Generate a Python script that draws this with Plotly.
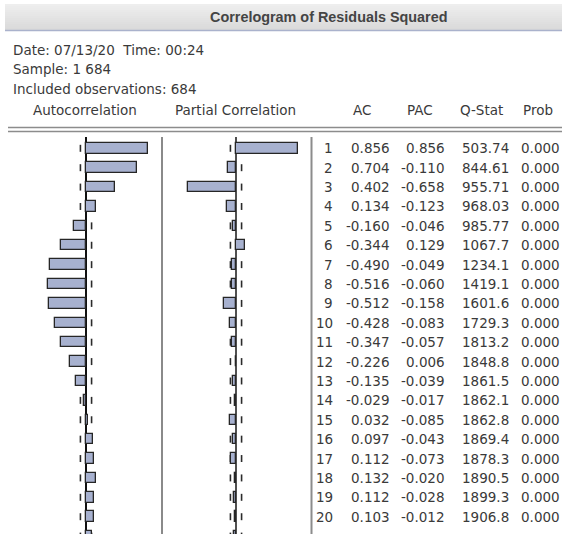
import numpy as np
import plotly.graph_objects as go

# Correlogram of squared residuals: 684 observations, lags 1-21
n_obs = 684
lags = list(range(1, 22))
ac = [0.856, 0.704, 0.402, 0.134, -0.160, -0.344, -0.490, -0.516, -0.512, -0.428,
      -0.347, -0.226, -0.135, -0.029, 0.032, 0.097, 0.112, 0.132, 0.112, 0.103, 0.082]
pac = [0.856, -0.110, -0.658, -0.123, -0.046, 0.129, -0.049, -0.060, -0.158, -0.083,
       -0.057, 0.006, -0.039, -0.017, -0.085, -0.043, -0.073, -0.020, -0.028, -0.012, -0.021]
q_stat = [503.74, 844.61, 955.71, 968.03, 985.77, 1067.7, 1234.1, 1419.1, 1601.6, 1729.3,
          1813.2, 1848.8, 1861.5, 1862.1, 1862.8, 1869.4, 1878.3, 1890.5, 1899.3, 1906.8, 1911.6]
prob = [0.000, 0.000, 0.000, 0.000, 0.000, 0.000, 0.000, 0.000, 0.000, 0.000,
        0.000, 0.000, 0.000, 0.000, 0.000, 0.000, 0.000, 0.000, 0.000, 0.000, 0.000]
col_headers = ["AC", "PAC", "Q-Stat", "Prob"]
info_lines = ["Date: 07/13/20  Time: 00:24", "Sample: 1 684", "Included observations: 684"]
title_text = "Correlogram of Residuals Squared"

W, H = 562, 534
BODY_FONT = "DejaVu Sans"
TXT = "#3a3a3a"
BAR_FILL = "#a7b1cf"
BAR_EDGE = "#262626"


def px(x):
    return x / W


def py(y):
    return 1 - y / H


# vertical layout of the rows (pixels)
top_px, row1_px, row_step = 137.0, 148.3, 19.39
y_range = [20 + (H - (row1_px + 19 * row_step)) / row_step, 1 - (row1_px - top_px) / row_step]

# horizontal scale of the bar panels (pixels per unit of correlation)
scale = 73.0
ac_zero, pac_zero = 86.0, 236.0
ac_left, ac_right = 8.0, 162.0
pac_left, pac_right = 162.0, 311.0

bound = 2 / np.sqrt(n_obs)

fig = go.Figure()

fig.add_trace(go.Bar(x=ac, y=lags, orientation="h", width=0.54, xaxis="x", yaxis="y",
                     marker=dict(color=BAR_FILL, line=dict(color=BAR_EDGE, width=1.3)),
                     showlegend=False))
fig.add_trace(go.Bar(x=pac, y=lags, orientation="h", width=0.54, xaxis="x2", yaxis="y",
                     marker=dict(color=BAR_FILL, line=dict(color=BAR_EDGE, width=1.3)),
                     showlegend=False))

base_axis = dict(showgrid=False, showticklabels=False, ticks="", showline=False,
                 zeroline=True, zerolinewidth=1.5, fixedrange=True)

fig.update_layout(
    width=W, height=H, margin=dict(l=0, r=0, t=0, b=0),
    paper_bgcolor="white", plot_bgcolor="rgba(0,0,0,0)",
    bargap=0, barmode="overlay",
    xaxis=dict(domain=[px(ac_left), px(ac_right)], zerolinecolor="#111111",
               range=[(ac_left - ac_zero) / scale, (ac_right - ac_zero) / scale], **base_axis),
    xaxis2=dict(domain=[px(pac_left), px(pac_right)], anchor="y", zerolinecolor="#505050",
                range=[(pac_left - pac_zero) / scale, (pac_right - pac_zero) / scale], **base_axis),
    yaxis=dict(domain=[0, py(top_px)], range=y_range, showgrid=False, showticklabels=False,
               ticks="", showline=False, zeroline=False, fixedrange=True),
)

shapes = []
# title bar with a soft vertical gradient
bar_top, bar_bot = 4, 30
steps = 13
for i in range(steps):
    t = i / (steps - 1)
    g = int(round(238 - 20 * t))
    y0 = bar_top + (bar_bot - bar_top) * i / steps
    y1 = bar_top + (bar_bot - bar_top) * (i + 1) / steps
    shapes.append(dict(type="rect", xref="paper", yref="paper", x0=px(5), x1=1,
                       y0=py(y1), y1=py(y0), line=dict(width=0),
                       fillcolor=f"rgb({g},{g},{g})", layer="below"))
shapes.append(dict(type="line", xref="paper", yref="paper", x0=px(5), x1=1,
                   y0=py(30.5), y1=py(30.5), line=dict(color="#aab2cc", width=1.5)))
# double rule under the column headers
for yy in (127.5, 131.5):
    shapes.append(dict(type="line", xref="paper", yref="paper", x0=px(8), x1=1,
                       y0=py(yy), y1=py(yy), line=dict(color="#8c8c8c", width=1.6)))
# panel separators
shapes.append(dict(type="line", xref="paper", yref="paper", x0=px(162), x1=px(162),
                   y0=py(top_px), y1=0, line=dict(color="#3c3c3c", width=1.2)))
shapes.append(dict(type="line", xref="paper", yref="paper", x0=px(311.5), x1=px(311.5),
                   y0=py(top_px), y1=0, line=dict(color="#8c8c8c", width=2)))
# approximate 2 s.e. bounds: a short tick on every row, beneath the bars
for axis_x in ("x", "x2"):
    for k in lags:
        for sgn in (-1, 1):
            shapes.append(dict(type="line", xref=axis_x, yref="y",
                               x0=sgn * bound, x1=sgn * bound, y0=k - 0.18, y1=k + 0.18,
                               line=dict(color="#2b2b2b", width=1.6), layer="below"))
fig.update_layout(shapes=shapes)

ann = []


def label(text, x, y, anchor="left", size=13.5, color=TXT, family=BODY_FONT, yref="paper"):
    ann.append(dict(text=text, x=x, y=y, xref="paper", yref=yref, xanchor=anchor,
                    yanchor="middle", showarrow=False,
                    font=dict(family=family, size=size, color=color)))


label(f"<b>{title_text}</b>", px(329), py(16.5), anchor="center", size=14.4,
      color="#444444", family="Liberation Sans")
for text, yy in zip(info_lines, (50, 69, 89)):
    label(text, px(11), py(yy))
label("Autocorrelation", px(85), py(110), anchor="center")
label("Partial Correlation", px(235), py(110), anchor="center")
for text, xx in zip(col_headers, (351, 405, 458, 521)):
    label(text, px(xx), py(110))

# numeric table, one row per lag on the shared y axis
for k, a, p, q, pr in zip(lags, ac, pac, q_stat, prob):
    q_txt = f"{q:.2f}" if q < 1000 else f"{q:.1f}"
    label(str(k), px(335), k, anchor="right", yref="y")
    label(f"{a:.3f}", px(392), k, anchor="right", yref="y")
    label(f"{p:.3f}", px(447), k, anchor="right", yref="y")
    label(q_txt, px(510.5), k, anchor="right", yref="y")
    label(f"{pr:.3f}", px(562), k, anchor="right", yref="y")

fig.update_layout(annotations=ann)

fig.write_html("out.html")
